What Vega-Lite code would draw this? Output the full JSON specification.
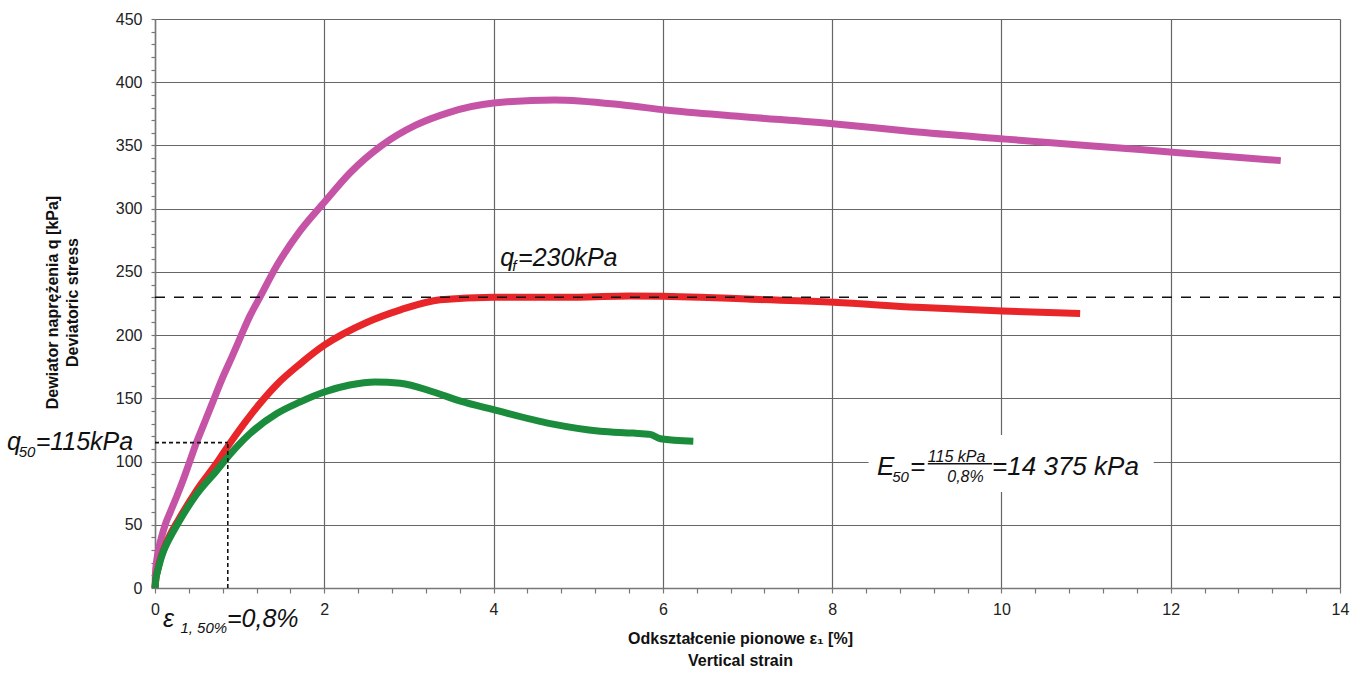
{
  "$schema": "https://vega.github.io/schema/vega-lite/v6.json",
  "width": 1185,
  "height": 569,
  "autosize": {"type": "none"},
  "padding": {"left": 155, "top": 19, "right": 23, "bottom": 90},
  "background": "white",
  "config": {"view": {"stroke": null}, "font": "Liberation Sans"},
  "datasets": {
    "curves": [
      {"s": "A", "x": 0, "q": 0}, {"s": "A", "x": 0.005, "q": 11}, {"s": "A", "x": 0.015, "q": 19}, {"s": "A", "x": 0.03, "q": 26}, {"s": "A", "x": 0.05, "q": 33},
      {"s": "A", "x": 0.08, "q": 41}, {"s": "A", "x": 0.12, "q": 50}, {"s": "A", "x": 0.18, "q": 60}, {"s": "A", "x": 0.26, "q": 73}, {"s": "A", "x": 0.33, "q": 85},
      {"s": "A", "x": 0.41, "q": 100}, {"s": "A", "x": 0.49, "q": 115},
      {"s": "A", "x": 0.58, "q": 130}, {"s": "A", "x": 0.67, "q": 145}, {"s": "A", "x": 0.79, "q": 165}, {"s": "A", "x": 0.91, "q": 183}, {"s": "A", "x": 1.02, "q": 200},
      {"s": "A", "x": 1.12, "q": 215}, {"s": "A", "x": 1.24, "q": 230},
      {"s": "A", "x": 1.44, "q": 255}, {"s": "A", "x": 1.71, "q": 282}, {"s": "A", "x": 2.0, "q": 305}, {"s": "A", "x": 2.3, "q": 328},
      {"s": "A", "x": 2.68, "q": 350}, {"s": "A", "x": 3.08, "q": 366}, {"s": "A", "x": 3.47, "q": 376}, {"s": "A", "x": 4.0, "q": 383.5},
      {"s": "A", "x": 4.72, "q": 386}, {"s": "A", "x": 5.53, "q": 382}, {"s": "A", "x": 6.03, "q": 378}, {"s": "A", "x": 6.89, "q": 373},
      {"s": "A", "x": 8.04, "q": 367}, {"s": "A", "x": 8.94, "q": 361}, {"s": "A", "x": 10.05, "q": 355}, {"s": "A", "x": 11.0, "q": 350},
      {"s": "A", "x": 12.06, "q": 344.5}, {"s": "A", "x": 13.3, "q": 338},
      {"s": "B", "x": 0, "q": 0}, {"s": "B", "x": 0.01, "q": 7}, {"s": "B", "x": 0.03, "q": 14}, {"s": "B", "x": 0.06, "q": 22}, {"s": "B", "x": 0.1, "q": 30},
      {"s": "B", "x": 0.17, "q": 41}, {"s": "B", "x": 0.27, "q": 53},
      {"s": "B", "x": 0.49, "q": 77}, {"s": "B", "x": 0.73, "q": 99}, {"s": "B", "x": 0.87, "q": 113}, {"s": "B", "x": 1.12, "q": 136},
      {"s": "B", "x": 1.44, "q": 161}, {"s": "B", "x": 1.71, "q": 177}, {"s": "B", "x": 2.0, "q": 192}, {"s": "B", "x": 2.5, "q": 210},
      {"s": "B", "x": 2.9, "q": 220}, {"s": "B", "x": 3.37, "q": 228}, {"s": "B", "x": 4.0, "q": 230}, {"s": "B", "x": 5.0, "q": 230},
      {"s": "B", "x": 5.6, "q": 231}, {"s": "B", "x": 6.44, "q": 230}, {"s": "B", "x": 7.0, "q": 228.5}, {"s": "B", "x": 8.02, "q": 226},
      {"s": "B", "x": 9.0, "q": 222}, {"s": "B", "x": 10.01, "q": 219}, {"s": "B", "x": 10.93, "q": 217},
      {"s": "C", "x": 0, "q": 0}, {"s": "C", "x": 0.01, "q": 7}, {"s": "C", "x": 0.03, "q": 13}, {"s": "C", "x": 0.06, "q": 21}, {"s": "C", "x": 0.1, "q": 29},
      {"s": "C", "x": 0.17, "q": 39}, {"s": "C", "x": 0.27, "q": 51},
      {"s": "C", "x": 0.49, "q": 74}, {"s": "C", "x": 0.73, "q": 93}, {"s": "C", "x": 0.89, "q": 106}, {"s": "C", "x": 1.12, "q": 122},
      {"s": "C", "x": 1.44, "q": 138}, {"s": "C", "x": 1.71, "q": 147}, {"s": "C", "x": 2.0, "q": 155}, {"s": "C", "x": 2.3, "q": 160.5},
      {"s": "C", "x": 2.6, "q": 163}, {"s": "C", "x": 2.9, "q": 162}, {"s": "C", "x": 3.29, "q": 155}, {"s": "C", "x": 3.6, "q": 148},
      {"s": "C", "x": 4.0, "q": 141}, {"s": "C", "x": 4.67, "q": 130}, {"s": "C", "x": 5.26, "q": 124}, {"s": "C", "x": 5.65, "q": 122.5},
      {"s": "C", "x": 5.85, "q": 121.5}, {"s": "C", "x": 5.97, "q": 118}, {"s": "C", "x": 6.36, "q": 116}
    ],
    "longdash": [{"x": 0, "x2": 14, "q": 230, "q2": 230}],
    "shortdash": [
      {"x": 0, "x2": 0.86, "q": 115, "q2": 115},
      {"x": 0.86, "x2": 0.86, "q": 0, "q2": 115}
    ],
    "box": [{"x": 8.43, "x2": 11.8, "q": 76, "q2": 121}],
    "fracbar": [{"x": 9.13, "x2": 9.89, "q": 98.3, "q2": 98.3}],
    "mainText": [
      {"x": -1.75, "q": 109, "t": "q"},
      {"x": -1.41, "q": 109, "t": "=115kPa"},
      {"x": 0.095, "q": -30.8, "t": "ε"},
      {"x": 0.85, "q": -30.8, "t": "=0,8%"},
      {"x": 4.08, "q": 255, "t": "q"},
      {"x": 4.29, "q": 255, "t": "=230kPa"}
    ],
    "bigText": [
      {"x": 8.53, "q": 89.3, "t": "E"},
      {"x": 8.92, "q": 89.3, "t": "="},
      {"x": 9.89, "q": 89.3, "t": "=14 375 kPa"}
    ],
    "subText": [
      {"x": -1.61, "q": 103.5, "t": "50"},
      {"x": 0.3, "q": -35.6, "t": "1, 50%"},
      {"x": 4.22, "q": 251, "t": "f"},
      {"x": 8.71, "q": 83.8, "t": "50"}
    ],
    "fracText": [
      {"x": 9.13, "q": 99.6, "t": "115 kPa"},
      {"x": 9.36, "q": 83.8, "t": "0,8%"}
    ]
  },
  "layer": [
    {
      "data": {"name": "box"},
      "mark": {"type": "rect", "fill": "white", "stroke": null},
      "encoding": {
        "x": {
          "field": "x", "type": "quantitative",
          "scale": {"domain": [0, 14], "nice": false, "zero": false},
          "axis": {
            "title": ["Odkształcenie pionowe  ε₁ [%]", "Vertical strain"],
            "values": [0, 0.4, 0.8, 1.2, 1.6, 2, 2.4, 2.8, 3.2, 3.6, 4, 4.4, 4.8, 5.2, 5.6, 6, 6.4, 6.8, 7.2, 7.6, 8, 8.4, 8.8, 9.2, 9.6, 10, 10.4, 10.8, 11.2, 11.6, 12, 12.4, 12.8, 13.2, 13.6, 14],
            "tickCount": 200,
            "labelExpr": "round(datum.value*10) % 20 == 0 ? format(datum.value, 'd') : ''",
            "grid": true,
            "gridColor": "#666666",
            "gridWidth": 1.2,
            "gridOpacity": {"condition": {"test": "round(datum.value*10) % 20 == 0", "value": 1}, "value": 0},
            "domainColor": "#777777", "domainWidth": 1.5,
            "tickColor": "#777777", "tickSize": 5, "tickWidth": 1.2,
            "labelFont": "Liberation Sans", "labelFontSize": 16, "labelColor": "#222222", "labelPadding": 8,
            "labelOverlap": false, "labelFlush": false, "labelBound": false,
            "titleFont": "Liberation Sans", "titleFontSize": 16, "titleFontWeight": "bold", "titleColor": "#111111",
            "titleX": 585, "titleY": 42, "titleBaseline": "top", "titleLineHeight": 22
          }
        },
        "x2": {"field": "x2"},
        "y": {
          "field": "q", "type": "quantitative",
          "scale": {"domain": [0, 450], "nice": false, "zero": false},
          "axis": {
            "title": ["Dewiator naprężenia q [kPa]", "Deviatoric stress"],
            "values": [0, 10, 20, 30, 40, 50, 60, 70, 80, 90, 100, 110, 120, 130, 140, 150, 160, 170, 180, 190, 200, 210, 220, 230, 240, 250, 260, 270, 280, 290, 300, 310, 320, 330, 340, 350, 360, 370, 380, 390, 400, 410, 420, 430, 440, 450],
            "tickCount": 200,
            "labelExpr": "datum.value % 50 == 0 ? format(datum.value, 'd') : ''",
            "grid": true,
            "gridColor": "#666666",
            "gridWidth": 1.2,
            "gridOpacity": {"condition": {"test": "datum.value % 50 == 0", "value": 1}, "value": 0},
            "domainColor": "#777777", "domainWidth": 1.5,
            "tickColor": "#777777", "tickSize": 4, "tickWidth": 1.2,
            "labelFont": "Liberation Sans", "labelFontSize": 16, "labelColor": "#222222", "labelPadding": 9,
            "labelOverlap": false, "labelFlush": false, "labelBound": false,
            "titleFont": "Liberation Sans", "titleFontSize": 16, "titleFontWeight": "bold", "titleColor": "#111111",
            "titleAngle": -90, "titleX": -103, "titleY": 283, "titleBaseline": "middle", "titleAlign": "center", "titleLineHeight": 20
          }
        },
        "y2": {"field": "q2"}
      }
    },
    {
      "data": {"name": "curves"},
      "mark": {"type": "line", "strokeWidth": 7, "strokeJoin": "round", "strokeCap": "butt", "interpolate": "monotone"},
      "encoding": {
        "x": {"field": "x", "type": "quantitative"},
        "y": {"field": "q", "type": "quantitative"},
        "color": {
          "field": "s", "type": "nominal",
          "scale": {"domain": ["A", "B", "C"], "range": ["#c654a6", "#e8262a", "#1a8c3c"]},
          "legend": null
        },
        "order": {"field": "x", "type": "quantitative"}
      }
    },
    {
      "data": {"name": "longdash"},
      "mark": {"type": "rule", "color": "#111111", "strokeWidth": 1.6, "strokeDash": [10, 9]},
      "encoding": {
        "x": {"field": "x", "type": "quantitative"},
        "x2": {"field": "x2"},
        "y": {"field": "q", "type": "quantitative"},
        "y2": {"field": "q2"}
      }
    },
    {
      "data": {"name": "shortdash"},
      "mark": {"type": "rule", "color": "#111111", "strokeWidth": 1.6, "strokeDash": [4, 3]},
      "encoding": {
        "x": {"field": "x", "type": "quantitative"},
        "x2": {"field": "x2"},
        "y": {"field": "q", "type": "quantitative"},
        "y2": {"field": "q2"}
      }
    },
    {
      "data": {"name": "fracbar"},
      "mark": {"type": "rule", "color": "#111111", "strokeWidth": 1.5},
      "encoding": {
        "x": {"field": "x", "type": "quantitative"},
        "x2": {"field": "x2"},
        "y": {"field": "q", "type": "quantitative"},
        "y2": {"field": "q2"}
      }
    },
    {
      "data": {"name": "mainText"},
      "mark": {"type": "text", "align": "left", "baseline": "alphabetic", "font": "Liberation Sans", "fontStyle": "italic", "fontSize": 25, "color": "#111111"},
      "encoding": {
        "x": {"field": "x", "type": "quantitative"},
        "y": {"field": "q", "type": "quantitative"},
        "text": {"field": "t"}
      }
    },
    {
      "data": {"name": "bigText"},
      "mark": {"type": "text", "align": "left", "baseline": "alphabetic", "font": "Liberation Sans", "fontStyle": "italic", "fontSize": 26, "color": "#111111"},
      "encoding": {
        "x": {"field": "x", "type": "quantitative"},
        "y": {"field": "q", "type": "quantitative"},
        "text": {"field": "t"}
      }
    },
    {
      "data": {"name": "subText"},
      "mark": {"type": "text", "align": "left", "baseline": "alphabetic", "font": "Liberation Sans", "fontStyle": "italic", "fontSize": 15, "color": "#111111"},
      "encoding": {
        "x": {"field": "x", "type": "quantitative"},
        "y": {"field": "q", "type": "quantitative"},
        "text": {"field": "t"}
      }
    },
    {
      "data": {"name": "fracText"},
      "mark": {"type": "text", "align": "left", "baseline": "alphabetic", "font": "Liberation Sans", "fontStyle": "italic", "fontSize": 16, "color": "#111111"},
      "encoding": {
        "x": {"field": "x", "type": "quantitative"},
        "y": {"field": "q", "type": "quantitative"},
        "text": {"field": "t"}
      }
    }
  ]
}
